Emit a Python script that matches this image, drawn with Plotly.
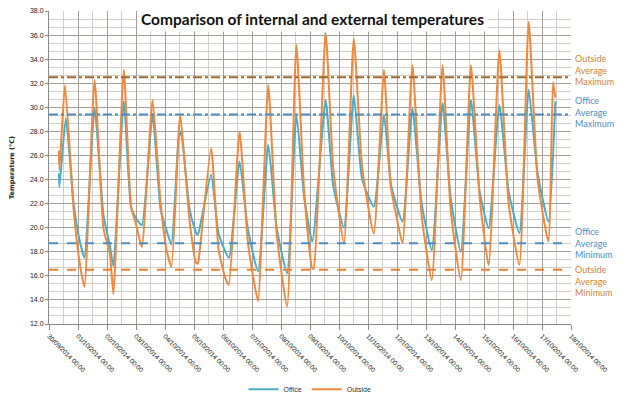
import pandas as pd
import plotly.graph_objects as go

# time in days from 30/09/2014 00:00, temperatures in degC
office_day = [0.34, 0.36, 0.58, 0.85, 1.05, 1.22,
              1.57, 1.88, 2.1, 2.22,
              2.58, 2.83, 3.0, 3.2,
              3.57, 3.85, 4.05, 4.22,
              4.47, 4.55, 4.85, 5.04, 5.11, 5.16,
              5.59, 5.85, 6.2,
              6.57, 6.85, 7.21,
              7.56, 7.85, 8.21,
              8.53, 8.8, 9.08,
              9.54, 9.8, 10.17,
              10.51, 10.8, 11.2,
              11.55, 11.8, 12.19,
              12.53, 12.85, 13.2,
              13.57, 13.85, 14.2,
              14.55, 14.85, 15.16,
              15.53, 15.85, 16.22,
              16.54, 16.85, 17.22,
              17.46]
office_temp = [24.5, 23.4, 29.1, 22.0, 19.0, 17.5,
               29.94, 21.0, 18.5, 16.8,
               30.5, 21.7, 20.8, 20.2,
               29.4, 21.5, 19.8, 18.6,
               27.4, 28.0, 21.5, 19.8, 19.4, 19.6,
               24.4, 19.5, 17.5,
               25.5, 20.0, 16.35,
               26.9, 20.0, 16.2,
               29.4, 22.5, 18.85,
               30.6, 23.5, 20.0,
               31.0, 24.0, 21.75,
               29.4, 23.5, 20.5,
               29.9, 22.0, 18.15,
               30.35, 22.5, 18.0,
               30.6, 23.0, 19.95,
               30.2, 23.0, 19.55,
               31.45, 24.5, 20.5,
               30.5]

outside_day = [0.34, 0.36, 0.55, 0.85, 1.05, 1.22,
               1.57, 1.88, 2.1, 2.22,
               2.58, 2.83, 3.0, 3.2,
               3.57, 3.85, 4.05, 4.22,
               4.47, 4.53, 4.85, 5.07, 5.13, 5.18,
               5.59, 5.85, 6.08, 6.2,
               6.57, 6.85, 7.1, 7.21,
               7.56, 7.85, 8.21,
               8.53, 8.8, 9.08, 9.13,
               9.54, 9.8, 10.17,
               10.51, 10.8, 11.2,
               11.55, 11.78, 11.96, 12.19,
               12.53, 12.85, 13.2,
               13.57, 13.85, 14.2,
               14.55, 14.85, 15.16,
               15.53, 15.85, 16.22,
               16.54, 16.85, 17.22,
               17.38, 17.46]
outside_temp = [26.4, 24.8, 31.85, 21.5, 17.2, 15.1,
                32.27, 19.9, 17.8, 14.5,
                33.1, 21.75, 20.3, 18.4,
                30.6, 22.0, 18.2, 16.75,
                27.9, 29.45, 20.5, 17.1, 17.0, 17.7,
                26.6, 18.15, 15.8, 15.25,
                28.0, 19.0, 15.1, 13.9,
                31.85, 19.5, 13.45,
                35.2, 23.0, 16.6, 16.6,
                36.15, 25.0, 18.7,
                35.7, 25.0, 19.5,
                33.1, 23.5, 21.2, 18.7,
                33.5, 21.0, 15.65,
                33.5, 21.5, 15.65,
                33.5, 22.5, 16.9,
                34.75, 22.0, 16.9,
                37.1, 24.0, 18.85,
                32.1, 30.8]

outside_avg_max = 32.5
office_avg_max = 29.4
office_avg_min = 18.7
outside_avg_min = 16.5

start = pd.Timestamp("2014-09-30 00:00")
end = pd.Timestamp("2014-10-18 00:00")

BLUE = "#4BACC6"
ORANGE = "#F0883E"


def to_time(days):
    return start + pd.to_timedelta(days, unit="D")


fig = go.Figure()
fig.add_trace(go.Scatter(x=to_time(office_day), y=office_temp, mode="lines",
                         name="Office",
                         line=dict(color=BLUE, width=2, shape="spline", smoothing=0.5)))
fig.add_trace(go.Scatter(x=to_time(outside_day), y=outside_temp, mode="lines",
                         name="Outside",
                         line=dict(color=ORANGE, width=2, shape="spline", smoothing=0.5)))

# average lines
fig.add_hline(y=outside_avg_max, line=dict(color="#9C6A32", width=2, dash="dashdot"))
fig.add_hline(y=office_avg_max, line=dict(color="#4F8CC0", width=2, dash="dashdot"))
fig.add_hline(y=office_avg_min, line=dict(color="#4F8CC0", width=2, dash="dash"))
fig.add_hline(y=outside_avg_min, line=dict(color="#F08030", width=2, dash="dash"))

side_labels = [
    ("Outside<br>Average<br>Maximum", 33.1, "#D08438"),
    ("Office<br>Average<br>Maximum", 29.6, "#4F8CC0"),
    ("Office<br>Average<br>Minimum", 18.7, "#4F8CC0"),
    ("Outside<br>Average<br>Minimum", 15.6, "#D08438"),
]
for text, y, color in side_labels:
    fig.add_annotation(x=1, xref="paper", xshift=2, y=y, yref="y", text=text,
                       showarrow=False, xanchor="left", yanchor="middle", align="left",
                       font=dict(family="Lato", size=9, color=color))

fig.add_annotation(x=0.505, xref="paper", y=38, yref="y", yshift=-8,
                   text="<b>Comparison of internal and external temperatures</b>",
                   showarrow=False, xanchor="center", yanchor="middle",
                   bgcolor="white", borderpad=3,
                   font=dict(family="Lato", size=15.5, color="#111111"))

fig.update_xaxes(
    range=[start, end], type="date", automargin=False,
    dtick=86400000, tick0=start, tickformat="%d/%m/%Y %H:%M", tickangle=45,
    tickfont=dict(family="Liberation Sans", size=6.5, color="#1a1a1a"),
    showgrid=True, gridcolor="#A89E96", gridwidth=1,
    minor=dict(dtick=43200000, showgrid=True, gridcolor="#D3CDC8"),
    showline=True, linecolor="#8A8A8A", ticks="outside", ticklen=5, tickcolor="#8A8A8A",
    zeroline=False,
)
fig.update_yaxes(
    range=[12, 38], dtick=2, tickformat=".1f", automargin=False,
    ticklabeloverflow="allow",
    tickfont=dict(family="Liberation Sans", size=7, color="#1a1a1a"),
    title=dict(text="<b>Temperature (°C)</b>",
               font=dict(family="DejaVu Sans", size=6.5, color="#222222"), standoff=20),
    showgrid=True, gridcolor="#A89E96", gridwidth=1,
    minor=dict(dtick=2 / 3, showgrid=True, gridcolor="#D3CDC8"),
    showline=True, linecolor="#8A8A8A", ticks="outside", ticklen=3, tickcolor="#8A8A8A",
    zeroline=False,
)

# the page adds an 8px body margin, so the figure is sized to fit the 635x395 window
fig.update_layout(
    width=627, height=387,
    margin=dict(l=41, r=64, t=3, b=71),
    paper_bgcolor="white", plot_bgcolor="white",
    showlegend=True,
    legend=dict(orientation="h", x=0.5, xanchor="center",
                yref="container", y=0.015, yanchor="middle",
                font=dict(family="Liberation Sans", size=7, color="#333333"),
                itemwidth=30, bgcolor="rgba(0,0,0,0)"),
)

fig.write_html("out.html")
